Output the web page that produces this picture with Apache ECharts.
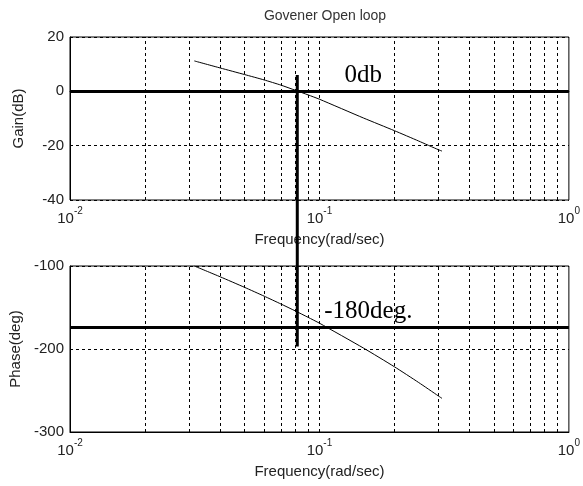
<!DOCTYPE html>
<html>
<head>
<meta charset="utf-8">
<script src="https://cdn.jsdelivr.net/npm/echarts@6/dist/echarts.min.js"></script>
<style>html,body{margin:0;padding:0;background:#fff}#c{width:583px;height:486px}</style>
</head>
<body>
<div id="c"></div>
<script>
// ---- data ----
const titleText = 'Govener Open loop';
const freq  = [0.0315, 0.04, 0.05, 0.06, 0.07, 0.08, 0.09, 0.1, 0.15, 0.2, 0.25, 0.3, 0.31];
const gain  = [11.2, 8.6, 6.2, 4.2, 2.3, 0.4, -1.3, -2.9, -9.8, -14.5, -18.3, -21.5, -22];
const phase = [-100, -113, -125.6, -136.3, -145.7, -154.1, -161.8, -168.9, -198.8, -221.5, -240.4, -256.6, -259.5];
const gridFreqs = [0.02,0.03,0.04,0.05,0.06,0.07,0.08,0.09,0.1,0.2,0.3,0.4,0.5,0.6,0.7,0.8,0.9];
const gainTicks = [-40, -20, 0, 20];
const phaseTicks = [-300, -200, -100];
const gainRef = 0;          // "0db" line
const phaseRef = -174;      // "-180deg." line (as drawn)
const crossFreq = 0.0815;   // vertical marker
const crossTopGain = 6;
const crossBottomPhase = -197;
const gainNote = {text: '0db', at: [0.15, 6]};
const phaseNote = {text: '-180deg.', at: [0.157, -155]};

const font = 'Liberation Sans, Arial, sans-serif';
const serif = 'Liberation Serif, Times New Roman, serif';
const txt = '#222';

function expLabel(v){
  const e = Math.round(Math.log10(v));
  return '{b|10}{s|' + e + '}';
}
const rich = {
  b:{fontFamily:font,fontSize:15,color:txt,lineHeight:20,verticalAlign:'bottom'},
  s:{fontFamily:font,fontSize:10,color:txt,lineHeight:20,verticalAlign:'top',padding:[0,0,10,0]}
};
function xAxisCfg(gi){
  return {type:'log', gridIndex:gi, logBase:10, min:0.01, max:1,
    axisLine:{show:true,lineStyle:{color:'#000',width:1}},
    axisTick:{show:false}, splitLine:{show:false},
    axisLabel:{formatter:expLabel, rich:rich, margin:6},
    name:'Frequency(rad/sec)', nameLocation:'middle', nameGap:32,
    nameTextStyle:{fontFamily:font,fontSize:15,color:txt}};
}
function yAxisCfg(gi, ticks, name){
  return {type:'value', gridIndex:gi, min:ticks[0], max:ticks[ticks.length-1],
    interval:ticks[1]-ticks[0],
    axisLine:{show:true,lineStyle:{color:'#000',width:1}},
    axisTick:{show:false},
    splitLine:{show:true,lineStyle:{color:'#000',type:[3,3],width:1}},
    axisLabel:{fontFamily:font,fontSize:15,color:txt,margin:6},
    name:name, nameLocation:'middle', nameGap:44, nameRotate:90,
    nameTextStyle:{fontFamily:font,fontSize:15,color:txt}};
}
function gridLines(){
  return gridFreqs.map(f=>({xAxis:f}));
}
const chart = echarts.init(document.getElementById('c'), null, {renderer:'canvas'});
const option = {
  animation:false,
  backgroundColor:'#fff',
  title:{text:titleText,left:320,textAlign:'center',top:4,
    textStyle:{fontFamily:font,fontSize:14,fontWeight:'normal',color:'#333'}},
  grid:[
    {left:70,right:12,top:37,height:163,show:true,borderColor:'#000',borderWidth:1},
    {left:70,right:12,top:266,height:166,show:true,borderColor:'#000',borderWidth:1}
  ],
  xAxis:[xAxisCfg(0), xAxisCfg(1)],
  yAxis:[yAxisCfg(0, gainTicks, 'Gain(dB)'), yAxisCfg(1, phaseTicks, 'Phase(deg)')],
  series:[
    {type:'line', xAxisIndex:0, yAxisIndex:0, data:freq.map((f,i)=>[f,gain[i]]),
      symbol:'none', smooth:0.2, lineStyle:{color:'#000',width:1}, z:3,
      markLine:{silent:true, symbol:'none', label:{show:false},
        lineStyle:{color:'#000',type:[3,3],width:1}, data:gridLines()}},
    {type:'line', xAxisIndex:1, yAxisIndex:1, data:freq.map((f,i)=>[f,phase[i]]),
      symbol:'none', smooth:0.2, lineStyle:{color:'#000',width:1}, z:3,
      markLine:{silent:true, symbol:'none', label:{show:false},
        lineStyle:{color:'#000',type:[3,3],width:1}, data:gridLines()}},
    {type:'line', xAxisIndex:0, yAxisIndex:0, data:[], z:5,
      markLine:{silent:true, symbol:'none', label:{show:false},
        lineStyle:{color:'#000',type:'solid',width:3}, data:[{yAxis:gainRef}]},
      markPoint:{symbol:'circle',symbolSize:0,silent:true,
        label:{show:true,formatter:gainNote.text,fontFamily:serif,fontSize:25,color:'#000',position:'inside'},
        data:[{coord:gainNote.at}]}},
    {type:'line', xAxisIndex:1, yAxisIndex:1, data:[], z:5,
      markLine:{silent:true, symbol:'none', label:{show:false},
        lineStyle:{color:'#000',type:'solid',width:3}, data:[{yAxis:phaseRef}]},
      markPoint:{symbol:'circle',symbolSize:0,silent:true,
        label:{show:true,formatter:phaseNote.text,fontFamily:serif,fontSize:25,color:'#000',position:'inside'},
        data:[{coord:phaseNote.at}]}}
  ]
};
chart.setOption(option);
const p1 = chart.convertToPixel({xAxisIndex:0,yAxisIndex:0},[crossFreq, crossTopGain]);
const p2 = chart.convertToPixel({xAxisIndex:1,yAxisIndex:1},[crossFreq, crossBottomPhase]);
chart.setOption({graphic:[{type:'line',z:100,shape:{x1:p1[0],y1:p1[1],x2:p2[0],y2:p2[1]},
  style:{stroke:'#000',lineWidth:3}}]});
</script>
</body>
</html>
